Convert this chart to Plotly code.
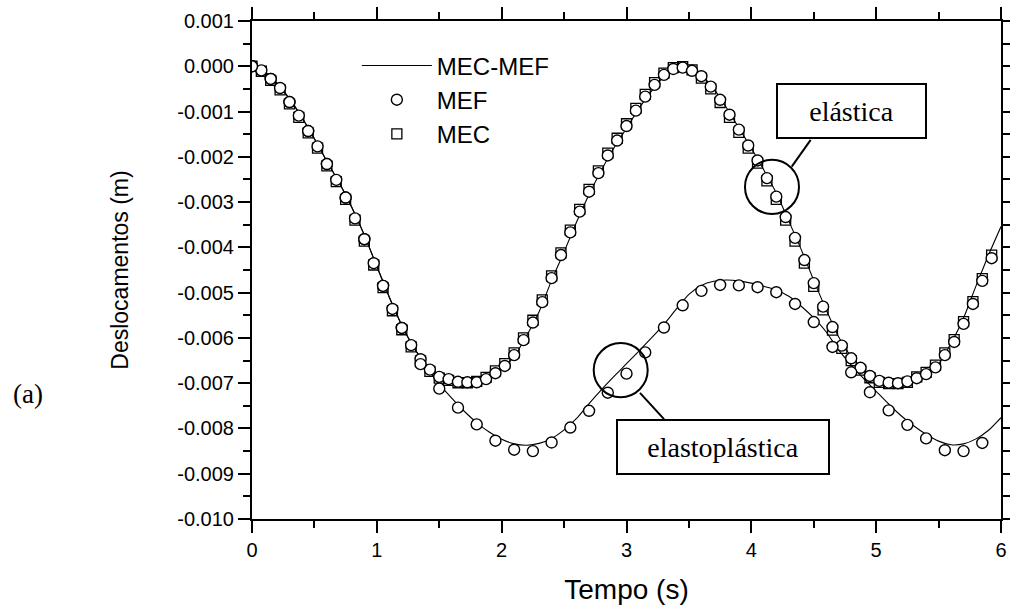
import plotly.graph_objects as go

# ---------------- data (values in units of 0.001 m) ----------------
t_line = [0.0, 0.1, 0.2, 0.3, 0.4, 0.5, 0.6, 0.7, 0.8, 0.9,
          1.0, 1.1, 1.2, 1.3, 1.4, 1.5, 1.6, 1.7, 1.8, 1.9,
          2.0, 2.1, 2.2, 2.3, 2.4, 2.5, 2.6, 2.7, 2.8, 2.9,
          3.0, 3.1, 3.2, 3.3, 3.4, 3.5, 3.6, 3.7, 3.8, 3.9,
          4.0, 4.1, 4.2, 4.3, 4.4, 4.5, 4.6, 4.7, 4.8, 4.9,
          5.0, 5.1, 5.2, 5.3, 5.4, 5.5, 5.6, 5.7, 5.8, 5.9, 6.0]

elastic_line = [0.0, -0.12, -0.38, -0.72, -1.13, -1.60, -2.10, -2.58, -3.12, -3.73,
                -4.42, -5.10, -5.72, -6.23, -6.60, -6.84, -6.93, -6.98, -6.98, -6.88,
                -6.69, -6.41, -5.95, -5.42, -4.73, -4.10, -3.44, -2.83, -2.29, -1.80,
                -1.37, -0.93, -0.55, -0.23, -0.05, -0.07, -0.20, -0.50, -0.91, -1.36,
                -1.81, -2.29, -2.80, -3.42, -4.05, -4.73, -5.38, -5.98, -6.41, -6.69,
                -6.90, -6.99, -7.00, -6.93, -6.81, -6.58, -6.12, -5.56, -4.85, -4.17, -3.54]

plastic_line = [0.0, -0.12, -0.38, -0.72, -1.13, -1.60, -2.10, -2.58, -3.12, -3.73,
                -4.42, -5.10, -5.72, -6.23, -6.65, -7.02, -7.33, -7.62, -7.87, -8.08,
                -8.24, -8.34, -8.37, -8.33, -8.22, -8.03, -7.78, -7.45, -7.14, -6.85,
                -6.57, -6.29, -6.00, -5.70, -5.36, -5.04, -4.84, -4.75, -4.72, -4.74,
                -4.79, -4.86, -4.94, -5.08, -5.30, -5.56, -5.87, -6.27, -6.60, -6.90,
                -7.18, -7.46, -7.72, -7.94, -8.13, -8.28, -8.36, -8.34, -8.23, -8.04, -7.76]

t_pts = [0.0, 0.075, 0.15, 0.225, 0.3, 0.375, 0.45, 0.525, 0.6, 0.675,
         0.75, 0.825, 0.9, 0.975, 1.05, 1.125, 1.2, 1.275, 1.35, 1.425,
         1.5, 1.575, 1.65, 1.725, 1.8, 1.875, 1.95, 2.025, 2.1, 2.175,
         2.25, 2.325, 2.4, 2.475, 2.55, 2.625, 2.7, 2.775, 2.85, 2.925,
         3.0, 3.075, 3.15, 3.225, 3.3, 3.375, 3.45, 3.525, 3.6, 3.675,
         3.75, 3.825, 3.9, 3.975, 4.05, 4.125, 4.2, 4.275, 4.35, 4.425,
         4.5, 4.575, 4.65, 4.725, 4.8, 4.875, 4.95, 5.025, 5.1, 5.175,
         5.25, 5.325, 5.4, 5.475, 5.55, 5.625, 5.7, 5.775, 5.85, 5.925]

mef_elastic = [0.0, -0.09, -0.28, -0.48, -0.79, -1.09, -1.43, -1.77, -2.16, -2.51,
               -2.90, -3.36, -3.82, -4.35, -4.85, -5.36, -5.78, -6.16, -6.47, -6.70,
               -6.86, -6.91, -6.97, -6.98, -6.98, -6.91, -6.78, -6.62, -6.38, -6.05,
               -5.66, -5.21, -4.68, -4.17, -3.67, -3.21, -2.77, -2.36, -1.97, -1.64,
               -1.32, -0.98, -0.67, -0.41, -0.19, -0.06, -0.03, -0.10, -0.22, -0.45,
               -0.74, -1.07, -1.40, -1.75, -2.08, -2.47, -2.88, -3.33, -3.79, -4.28,
               -4.79, -5.31, -5.76, -6.17, -6.45, -6.66, -6.84, -6.95, -6.99, -7.00,
               -6.96, -6.89, -6.80, -6.65, -6.38, -6.09, -5.69, -5.25, -4.74, -4.24]

mec_elastic = [0.0, -0.11, -0.31, -0.52, -0.83, -1.13, -1.47, -1.81, -2.20, -2.55,
               -2.94, -3.40, -3.86, -4.39, -4.89, -5.40, -5.82, -6.20, -6.51, -6.74,
               -6.89, -6.94, -6.99, -6.99, -6.96, -6.87, -6.73, -6.57, -6.33, -6.00,
               -5.61, -5.16, -4.63, -4.12, -3.62, -3.16, -2.72, -2.31, -1.92, -1.59,
               -1.27, -0.93, -0.62, -0.36, -0.15, -0.03, -0.01, -0.08, -0.26, -0.50,
               -0.80, -1.13, -1.46, -1.81, -2.14, -2.53, -2.94, -3.40, -3.86, -4.35,
               -4.86, -5.38, -5.83, -6.23, -6.50, -6.71, -6.88, -6.98, -7.01, -7.01,
               -6.98, -6.86, -6.76, -6.60, -6.33, -6.04, -5.64, -5.20, -4.69, -4.17]

t_pts_plastic = [0.0, 0.15, 0.3, 0.45, 0.6, 0.75, 0.9, 1.05, 1.2, 1.35,
                 1.5, 1.65, 1.8, 1.95, 2.1, 2.25, 2.4, 2.55, 2.7, 2.85,
                 3.0, 3.15, 3.3, 3.45, 3.6, 3.75, 3.9, 4.05, 4.2, 4.35,
                 4.5, 4.65, 4.8, 4.95, 5.1, 5.25, 5.4, 5.55, 5.7, 5.85]

mef_plastic = [0.0, -0.28, -0.79, -1.43, -2.16, -2.90, -3.82, -4.85, -5.78, -6.58,
               -7.12, -7.54, -7.91, -8.27, -8.47, -8.50, -8.31, -7.98, -7.61, -7.21,
               -6.79, -6.32, -5.77, -5.28, -4.96, -4.83, -4.84, -4.88, -4.99, -5.25,
               -5.65, -6.20, -6.76, -7.20, -7.60, -7.92, -8.22, -8.48, -8.50, -8.32]

x_tickvals = [0, 1, 2, 3, 4, 5, 6]
x_ticktext = ["0", "1", "2", "3", "4", "5", "6"]
y_tickvals = [0.001, 0.0, -0.001, -0.002, -0.003, -0.004, -0.005,
              -0.006, -0.007, -0.008, -0.009, -0.010]
y_ticktext = ["0.001", "0.000", "-0.001", "-0.002", "-0.003", "-0.004", "-0.005",
              "-0.006", "-0.007", "-0.008", "-0.009", "-0.010"]

UNIT = 1e-3  # stored values are in 0.001 m


def to_m(vals):
    return [v * UNIT for v in vals]


SANS = "Liberation Sans, Arial, sans-serif"
SERIF = "Liberation Serif, Times New Roman, serif"

fig = go.Figure()

fig.add_trace(go.Scatter(x=t_line, y=to_m(elastic_line), mode="lines", name="MEC-MEF",
                         line=dict(color="black", width=1.1, shape="spline", smoothing=0.6),
                         legendrank=1))
fig.add_trace(go.Scatter(x=t_line, y=to_m(plastic_line), mode="lines", showlegend=False,
                         line=dict(color="black", width=1.1, shape="spline", smoothing=0.6)))
fig.add_trace(go.Scatter(x=t_pts, y=to_m(mec_elastic), mode="markers", name="MEC",
                         marker=dict(symbol="square-open", size=10, color="black",
                                     line=dict(width=1.3, color="black")),
                         legendrank=3))
fig.add_trace(go.Scatter(x=t_pts, y=to_m(mef_elastic), mode="markers", name="MEF",
                         marker=dict(symbol="circle", size=11, color="white",
                                     line=dict(width=1.4, color="black")),
                         legendrank=2))
fig.add_trace(go.Scatter(x=t_pts_plastic, y=to_m(mef_plastic), mode="markers", showlegend=False,
                         marker=dict(symbol="circle", size=11, color="white",
                                     line=dict(width=1.4, color="black"))))

axis_common = dict(showline=True, linewidth=2, linecolor="black", mirror="allticks",
                   ticks="outside", ticklen=12, tickwidth=2, tickcolor="black",
                   showgrid=False, zeroline=False, automargin=False,
                   tickfont=dict(family=SANS, size=20, color="black"))

fig.update_xaxes(range=[0, 6], tickmode="array", tickvals=x_tickvals, ticktext=x_ticktext,
                 minor=dict(ticks="outside", ticklen=7, tickwidth=2, tickcolor="black",
                            dtick=0.5, tick0=0, showgrid=False),
                 title=dict(text="Tempo (s)", font=dict(family=SANS, size=28, color="black"),
                            standoff=19),
                 **axis_common)
fig.update_yaxes(range=[-0.010, 0.001], tickmode="array", tickvals=y_tickvals, ticktext=y_ticktext,
                 minor=dict(ticks="outside", ticklen=7, tickwidth=2, tickcolor="black",
                            dtick=0.0005, tick0=0, showgrid=False),
                 title=dict(text="Deslocamentos (m)", font=dict(family=SANS, size=23, color="black"),
                            standoff=42),
                 **axis_common)

# annotation circles and leader lines
circ = dict(type="circle", xref="paper", yref="paper", line=dict(color="black", width=2))
fig.add_shape(x0=0.6582, x1=0.7303, y0=0.6126, y1=0.7212, **circ)
fig.add_shape(x0=0.4562, x1=0.5283, y0=0.2447, y1=0.3532, **circ)
lead = dict(type="line", xref="paper", yref="paper", line=dict(color="black", width=2))
fig.add_shape(x0=0.7206, y0=0.7077, x1=0.7459, y1=0.7614, **lead)
fig.add_shape(x0=0.5180, y0=0.2533, x1=0.5501, y1=0.2004, **lead)

box = dict(xref="paper", yref="paper", showarrow=False, bgcolor="white",
           xanchor="center", yanchor="middle",
           bordercolor="black", borderwidth=2, borderpad=0,
           font=dict(family=SERIF, size=28, color="black"))
fig.add_annotation(x=0.801, y=0.8197, text="elástica", width=147, height=52, **box)
fig.add_annotation(x=0.6288, y=0.1442, text="elastoplástica", width=210, height=52, **box)

fig.add_annotation(x=-0.299, y=0.2507, xref="paper", yref="paper", text="(a)", showarrow=False,
                   xanchor="center", yanchor="middle",
                   font=dict(family=SERIF, size=27, color="black"))

fig.update_layout(
    width=1010, height=611,
    margin=dict(l=252, r=9, t=21, b=92),
    paper_bgcolor="white", plot_bgcolor="white",
    showlegend=True,
    legend=dict(x=0.14, y=0.955, xanchor="left", yanchor="top",
                bgcolor="rgba(0,0,0,0)", borderwidth=0,
                font=dict(family=SANS, size=24, color="black"),
                itemwidth=70, tracegroupgap=0),
)

fig.write_html("out.html")
